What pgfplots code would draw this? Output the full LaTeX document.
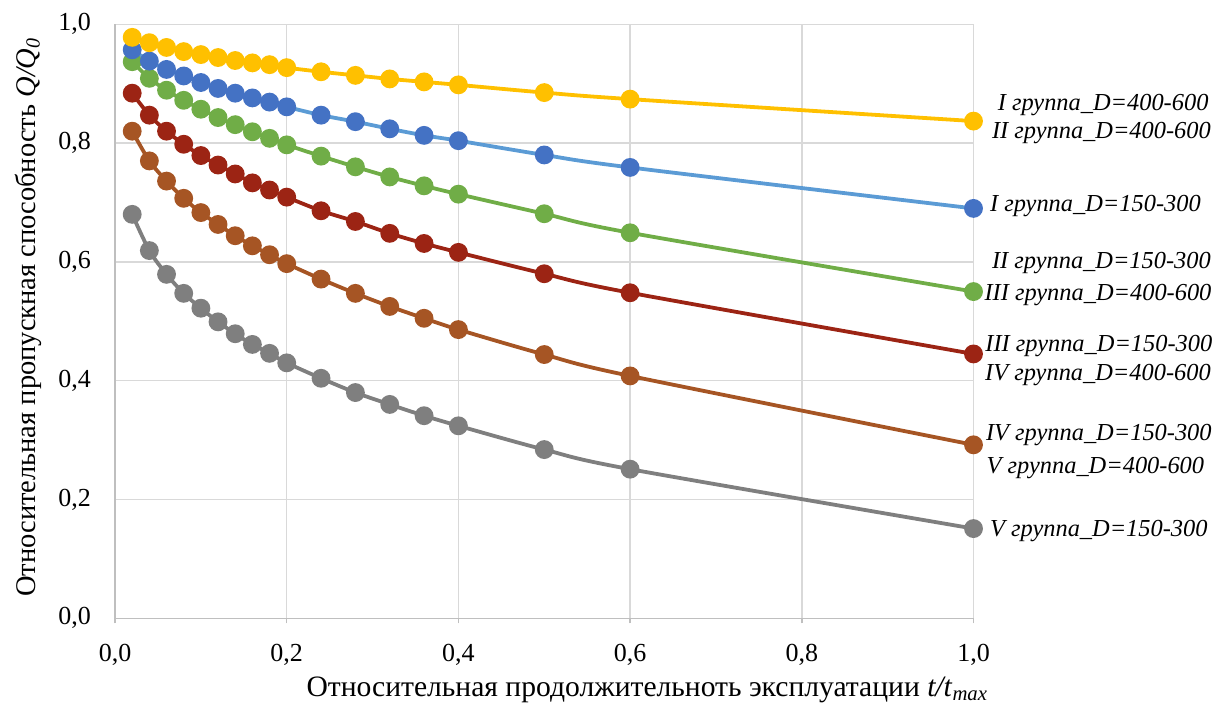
\documentclass[border=0pt]{standalone}
\usepackage{fontspec}
\setmainfont{Liberation Serif}
\usepackage{pgfplots}
\usepackage{pgfplotstable}
\pgfplotsset{compat=1.18}
\definecolor{cyel}{HTML}{FFC000}
\definecolor{cblueL}{HTML}{5B9BD5}
\definecolor{cblueM}{HTML}{4472C4}
\definecolor{cgreen}{HTML}{70AD47}
\definecolor{cred}{HTML}{9C2414}
\definecolor{cbrown}{HTML}{A65524}
\definecolor{cgray}{HTML}{7F7F7F}
\definecolor{gridgray}{HTML}{D9D9D9}
\definecolor{axisgray}{HTML}{BFBFBF}
\pgfplotstableread{
x     yel   blue  green red   brown gray
0.02  0.978 0.957 0.937 0.884 0.820 0.680
0.04  0.969 0.938 0.909 0.847 0.770 0.619
0.06  0.961 0.924 0.889 0.820 0.736 0.579
0.08  0.954 0.913 0.872 0.798 0.707 0.547
0.10  0.949 0.902 0.857 0.779 0.683 0.522
0.12  0.944 0.892 0.843 0.763 0.663 0.499
0.14  0.939 0.884 0.831 0.748 0.644 0.479
0.16  0.935 0.876 0.819 0.733 0.627 0.461
0.18  0.932 0.869 0.808 0.721 0.612 0.446
0.20  0.927 0.861 0.797 0.709 0.597 0.430
0.24  0.920 0.847 0.778 0.686 0.571 0.404
0.28  0.914 0.836 0.760 0.668 0.547 0.380
0.32  0.908 0.824 0.743 0.648 0.525 0.360
0.36  0.903 0.813 0.728 0.631 0.505 0.341
0.40  0.898 0.804 0.714 0.616 0.486 0.324
0.50  0.885 0.780 0.681 0.580 0.444 0.284
0.60  0.874 0.759 0.649 0.548 0.408 0.251
1.00  0.837 0.690 0.550 0.445 0.292 0.151
}\datatab
\begin{document}
\begin{tikzpicture}
\begin{axis}[
  x=429.25pt, y=297pt,
  xmin=0, xmax=1, ymin=0, ymax=1,
  clip=false,
  axis x line*=bottom, axis y line*=left,
  axis line style={draw=axisgray, line width=0.75pt, -},
  xtick={0,0.2,0.4,0.6,0.8,1.0},
  ytick={0,0.2,0.4,0.6,0.8,1.0},
  grid=major,
  major grid style={draw=gridgray, line width=0.75pt},
  tick align=outside,
  major tick length=2.5pt,
  xtick style={draw=axisgray, line width=0.75pt},
  ytick style={draw=none},
  tick label style={font=\fontsize{13}{15}\selectfont},
  xticklabel style={yshift=-7pt},
  yticklabel style={xshift=-6pt},
  /pgf/number format/.cd, use comma, fixed, fixed zerofill, precision=1, assume math mode=true,
  /pgfplots/.cd,
  xlabel={Относительная продолжительноть эксплуатации \textit{t/t}\textsubscript{\textit{max}}},
  xlabel style={at={(rel axis cs:0.62,-0.1315)}, anchor=base, font=\fontsize{14.8}{17}\selectfont},
  ylabel={Относительная пропускная способность \textit{Q/Q}\textsubscript{\textit{0}}},
  ylabel style={at={(rel axis cs:-0.093,0.507)}, anchor=base, font=\fontsize{14.25}{17}\selectfont},
  every axis plot/.append style={line width=1.9pt, smooth, tension=0.5, mark=*, mark size=3.75pt},
]
\coordinate (bbSW) at (axis cs:-0.134,-0.1504);
\coordinate (bbNE) at (axis cs:1.279,1.0409);
\addplot[cgray, mark options={fill=cgray, draw=cgray}] table[x=x, y=gray] {\datatab};
\addplot[cbrown, mark options={fill=cbrown, draw=cbrown}] table[x=x, y=brown] {\datatab};
\addplot[cred, mark options={fill=cred, draw=cred}] table[x=x, y=red] {\datatab};
\addplot[cgreen, mark options={fill=cgreen, draw=cgreen}] table[x=x, y=green] {\datatab};
\addplot[cblueL, mark options={fill=cblueM, draw=cblueM}] table[x=x, y=blue] {\datatab};
\addplot[cyel, mark options={fill=cyel, draw=cyel}] table[x=x, y=yel] {\datatab};
\begin{scope}[every node/.style={anchor=base, font=\fontsize{12.2}{14}\selectfont\itshape, inner sep=0pt}]
\node at (axis cs:1.151,0.8555) {I группа\_D=400-600};
\node at (axis cs:1.149,0.8077) {II группа\_D=400-600};
\node at (axis cs:1.142,0.6843) {I группа\_D=150-300};
\node at (axis cs:1.149,0.5889) {II группа\_D=150-300};
\node at (axis cs:1.145,0.5355) {III группа\_D=400-600};
\node at (axis cs:1.146,0.4487) {III группа\_D=150-300};
\node at (axis cs:1.145,0.4008) {IV группа\_D=400-600};
\node at (axis cs:1.146,0.2998) {IV группа\_D=150-300};
\node at (axis cs:1.142,0.2438) {V группа\_D=400-600};
\node at (axis cs:1.146,0.1372) {V группа\_D=150-300};
\end{scope}
\end{axis}
\pgfresetboundingbox
\useasboundingbox (bbSW) rectangle (bbNE);
\end{tikzpicture}
\end{document}
